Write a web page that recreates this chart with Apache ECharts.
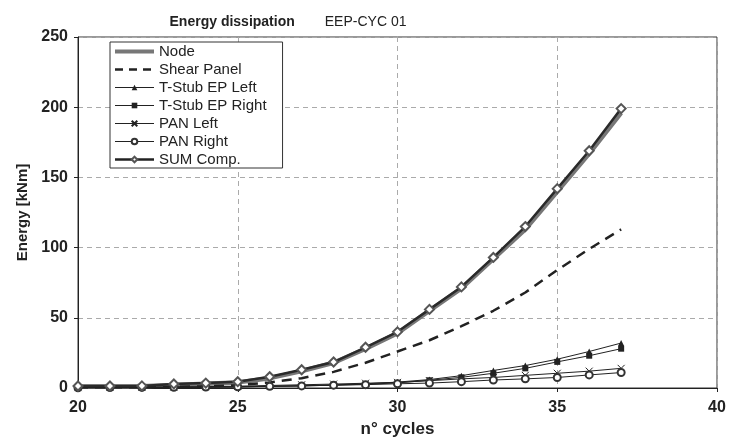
<!DOCTYPE html>
<html>
<head>
    <meta charset="utf-8">
    <title>Energy dissipation</title>
    <script src="https://cdn.jsdelivr.net/npm/echarts@6/dist/echarts.min.js"></script>
    <style>
        html, body { margin: 0; padding: 0; background: #fff; }
        #main { width: 729px; height: 442px; }
    </style>
</head>
<body>
<div id="main"></div>
<script type="text/javascript">
    // cycle numbers and energy per component [kNm]
    var cycles = [20, 21, 22, 23, 24, 25, 26, 27, 28, 29, 30, 31, 32, 33, 34, 35, 36, 37];
    var node     = [1.0, 1.0, 1.3, 2.2, 3.0, 4.0, 7.0, 12, 18, 28, 39, 55, 71, 92, 113, 140, 167, 196];
    var shear    = [0.5, 0.5, 0.6, 0.8, 1.2, 2.0, 4.0, 7.0, 11.5, 18, 26, 34, 44, 55, 68, 84, 99, 113];
    var tStubL   = [0.3, 0.3, 0.4, 0.5, 0.6, 0.8, 1.2, 1.6, 2.2, 3.0, 4.2, 6.0, 8.8, 12.5, 16, 20.5, 26, 32];
    var tStubR   = [0.3, 0.3, 0.4, 0.5, 0.6, 0.8, 1.1, 1.5, 2.0, 2.7, 3.6, 5.5, 7.6, 10.5, 14, 18.6, 23, 28];
    var panL     = [0.3, 0.4, 0.5, 0.7, 1.0, 1.3, 1.8, 2.3, 2.8, 3.4, 4.0, 5.2, 6.5, 7.5, 9.0, 10.5, 12, 14];
    var panR     = [0.2, 0.3, 0.4, 0.5, 0.7, 0.9, 1.2, 1.5, 2.0, 2.4, 3.0, 3.5, 4.5, 5.7, 6.5, 7.5, 9.3, 11];
    var sumComp  = [1.4, 1.4, 1.5, 2.9, 3.5, 4.5, 8.0, 13, 18.5, 29, 40, 56, 72, 93, 115, 142, 169, 199];

    function pairs(ys) {
        var out = [];
        for (var i = 0; i < cycles.length; i++) {
            out.push([cycles[i], ys[i]]);
        }
        return out;
    }

    var FONT = '"Liberation Sans", Arial, sans-serif';
    var myChart = echarts.init(document.getElementById('main'));

    var option = {
        animation: false,
        textStyle: { fontFamily: FONT },
        title: {
            text: '{a|Energy dissipation}      {b|EEP-CYC 01}',
            left: 283,
            textAlign: 'center',
            top: 8,
            textStyle: {
                rich: {
                    a: { fontFamily: FONT, fontSize: 14, fontWeight: 'bold', color: '#222' },
                    b: { fontFamily: FONT, fontSize: 14, fontWeight: 'normal', color: '#222' }
                }
            }
        },
        legend: {
            orient: 'vertical',
            left: 110,
            top: 42,
            padding: [2, 16, 1, 3],
            itemGap: 3,
            itemWidth: 39,
            itemHeight: 7,
            borderColor: '#333',
            borderWidth: 1,
            backgroundColor: '#fff',
            textStyle: { fontFamily: FONT, fontSize: 15, lineHeight: 15, color: '#222' },
            data: [
                { name: 'Node', lineStyle: { width: 4, color: '#777' } },
                { name: 'Shear Panel', lineStyle: { width: 2.5, type: [8, 6], color: '#222' } },
                { name: 'T-Stub EP Left', lineStyle: { width: 1, color: '#222' } },
                { name: 'T-Stub EP Right', lineStyle: { width: 1, color: '#222' } },
                { name: 'PAN Left', lineStyle: { width: 1, color: '#222' } },
                { name: 'PAN Right', lineStyle: { width: 1, color: '#222' } },
                { name: 'SUM Comp.', lineStyle: { width: 2.5, color: '#222' } }
            ]
        },
        grid: {
            left: 78, right: 12, top: 37, bottom: 54,
            outerBoundsMode: 'none',
            show: true, borderColor: '#333', borderWidth: 1
        },
        xAxis: {
            type: 'value',
            min: 20, max: 40, interval: 5,
            name: 'n° cycles',
            nameLocation: 'middle',
            nameGap: 33,
            nameTextStyle: { fontFamily: FONT, fontSize: 17, fontWeight: 'bold', color: '#222' },
            axisLine: { lineStyle: { color: '#222' } },
            axisTick: { show: true, length: 4, lineStyle: { color: '#222' } },
            axisLabel: { fontFamily: FONT, fontSize: 16, fontWeight: 'bold', color: '#222', margin: 12 },
            splitLine: { lineStyle: { color: '#aaa', type: [5, 4] } }
        },
        yAxis: {
            type: 'value',
            min: 0, max: 250, interval: 50,
            name: 'Energy [kNm]',
            nameLocation: 'middle',
            nameGap: 48,
            nameTextStyle: { fontFamily: FONT, fontSize: 15, fontWeight: 'bold', color: '#222' },
            axisLine: { show: true, lineStyle: { color: '#222' } },
            axisTick: { show: true, length: 4, lineStyle: { color: '#222' } },
            axisLabel: { fontFamily: FONT, fontSize: 16, fontWeight: 'bold', color: '#222', margin: 10 },
            splitLine: { lineStyle: { color: '#aaa', type: [5, 4] } }
        },
        series: [
            {
                name: 'Node', type: 'line', data: pairs(node),
                symbol: 'none', z: 2,
                lineStyle: { color: '#777', width: 4.5 },
                itemStyle: { color: 'rgba(0,0,0,0)' }
            },
            {
                name: 'Shear Panel', type: 'line', data: pairs(shear),
                symbol: 'none', z: 3,
                lineStyle: { color: '#222', width: 2.5, type: [10, 7] },
                itemStyle: { color: 'rgba(0,0,0,0)' }
            },
            {
                name: 'T-Stub EP Left', type: 'line', data: pairs(tStubL),
                symbol: 'triangle', symbolSize: 6, z: 3,
                lineStyle: { color: '#222', width: 1 },
                itemStyle: { color: '#222' }
            },
            {
                name: 'T-Stub EP Right', type: 'line', data: pairs(tStubR),
                symbol: 'rect', symbolSize: 6, z: 3,
                lineStyle: { color: '#222', width: 1 },
                itemStyle: { color: '#222' }
            },
            {
                name: 'PAN Left', type: 'line', data: pairs(panL),
                symbol: 'path://M0,0L10,10M10,0L0,10', symbolSize: 7, z: 3,
                lineStyle: { color: '#222', width: 1 },
                itemStyle: { color: 'none', borderColor: '#222', borderWidth: 1 }
            },
            {
                name: 'PAN Right', type: 'line', data: pairs(panR),
                symbol: 'emptyCircle', symbolSize: 7, z: 3,
                lineStyle: { color: '#222', width: 1 },
                itemStyle: { color: '#333', borderWidth: 0.8 }
            },
            {
                name: 'SUM Comp.', type: 'line', data: pairs(sumComp),
                symbol: 'emptyDiamond', symbolSize: 9, z: 4,
                lineStyle: { color: '#2a2a2a', width: 2.5 },
                itemStyle: { color: '#555', borderWidth: 1 }
            }
        ]
    };

    myChart.setOption(option);
</script>
</body>
</html>
